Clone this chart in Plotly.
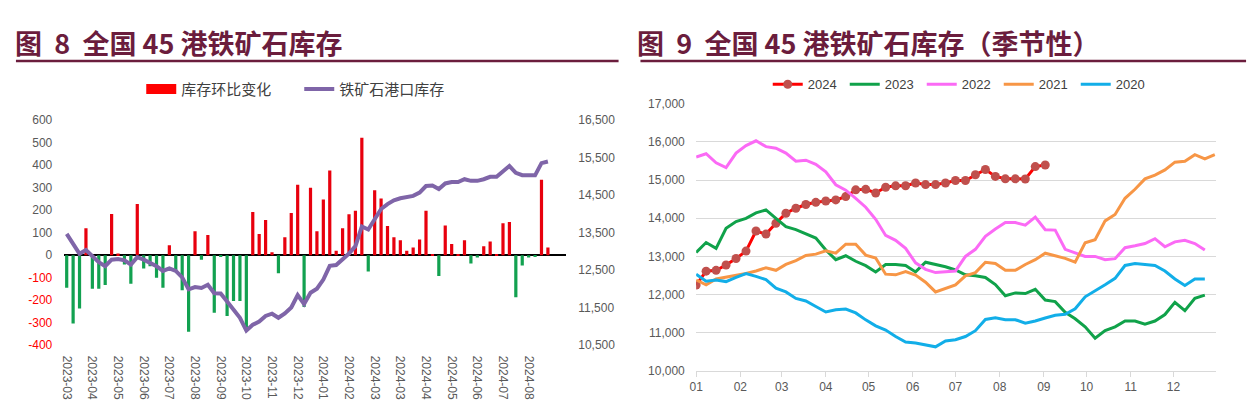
import pandas as pd
import plotly.graph_objects as go

# ---------------- data ----------------
first_week = "2023-03-31"

# weekly change of 45-port iron ore inventory (10k t)
weekly_change = [
    -145, -303, -237, 120, -149, -149, -132, 183, 7, -41,
    -127, 227, -59, -49, -100, -145, 44, -74, -156, -340,
    106, -20, 90, -256, -5, -270, -203, -203, -335, 192,
    94, 156, 13, -80, 80, 187, 313, -230, 299, 106,
    247, 376, 20, 120, 182, 197, 522, -72, 288, 252,
    130, 80, 66, 20, 34, 70, 197, 3, -93, 132,
    50, 2, 66, -37, -10, 40, 61, 2, 142, 147,
    -187, -46, -10, -6, 335, 34,
]

# 45-port iron ore inventory (10k t)
port_stock = [
    13466, 13209, 12936, 13037, 12866, 12711, 12608, 12780, 12797, 12763,
    12651, 12849, 12780, 12694, 12608, 12480, 12548, 12480, 12308, 11990,
    12050, 12025, 12110, 11885, 11879, 11664, 11448, 11232, 10890, 11046,
    11130, 11280, 11340, 11232, 11346, 11508, 11838, 11598, 11898, 12006,
    12250, 12615, 12637, 12775, 12945, 13140, 13665, 13585, 13870, 14130,
    14262, 14360, 14417, 14452, 14480, 14566, 14743, 14756, 14662, 14812,
    14848, 14850, 14924, 14881, 14881, 14924, 14987, 14987, 15138, 15277,
    15096, 15032, 15032, 15028, 15352, 15395,
]

# seasonal series (weekly, starting first week of January)
season_2024 = [
    12250, 12615, 12637, 12775, 12945, 13140, 13665, 13585, 13870, 14130,
    14262, 14360, 14417, 14452, 14480, 14566, 14743, 14756, 14662, 14812,
    14848, 14850, 14924, 14881, 14881, 14924, 14987, 14987, 15138, 15277,
    15096, 15032, 15032, 15028, 15352, 15395,
]
season_2023 = [
    13102, 13364, 13212, 13736, 13914, 13998, 14142, 14218, 13998, 13779,
    13702, 13593, 13483, 13170, 12916, 13018, 12874, 12760, 12595, 12789,
    12789, 12764, 12595, 12849, 12789, 12730, 12646, 12519, 12494, 12451,
    12265, 11970, 12046, 12029, 12139, 11860, 11817, 11538, 11369, 11158,
    10860, 11057, 11158, 11310, 11310, 11226, 11310, 11479, 11800, 11580,
    11902, 11986,
]
season_2022 = [
    15604, 15689, 15452, 15325, 15706, 15900, 16027, 15875, 15833, 15706,
    15494, 15520, 15410, 15216, 14877, 14734, 14522, 14290, 13973, 13550,
    13423, 13212, 12832, 12663, 12578, 12604, 12620, 13001, 13187, 13525,
    13719, 13888, 13888, 13821, 14032, 13700, 13690, 13187, 13085, 13001,
    13001, 12916, 12942, 13229, 13280, 13339, 13466, 13254, 13381, 13423,
    13339, 13170,
]
season_2021 = [
    12384, 12257, 12409, 12451, 12511, 12553, 12620, 12705, 12637, 12790,
    12891, 13026, 13060, 13145, 13085, 13322, 13322, 13035, 12959, 12536,
    12519, 12604, 12511, 12325, 12071, 12172, 12257, 12494, 12578, 12849,
    12815, 12637, 12637, 12790, 12916, 13085, 13018, 12950, 12850, 13360,
    13440, 13931, 14100, 14522, 14759, 15030, 15131, 15266, 15469, 15494,
    15663, 15554, 15663,
]
season_2020 = [
    12536, 12350, 12384, 12342, 12451, 12553, 12477, 12392, 12172, 12071,
    11902, 11834, 11691, 11547, 11606, 11623, 11522, 11340, 11183, 11074,
    10904, 10761, 10735, 10676, 10634, 10786, 10820, 10904, 11057, 11352,
    11395, 11344, 11344, 11251, 11310, 11390, 11462, 11488, 11631, 11944,
    12096, 12257, 12426, 12764, 12815, 12789, 12764, 12620, 12409, 12240,
    12409, 12409,
]

left_yticks = [600, 500, 400, 300, 200, 100, 0, -100, -200, -300, -400]
right_yticks = [16500, 15500, 14500, 13500, 12500, 11500, 10500]
season_yticks = [10000, 11000, 12000, 13000, 14000, 15000, 16000, 17000]

title_left = "图\u00a0\u00a08\u00a0\u00a0全国\u00a045\u00a0港铁矿石库存"
title_right = "图\u00a0\u00a09\u00a0\u00a0全国\u00a045\u00a0港铁矿石库存（季节性）"

# ---------------- styles ----------------
W, H = 1257, 417
MAROON = "#6B1D3D"
TICK = "#595959"
RED_BAR = "#E8000D"
GREEN_BAR = "#12A150"
PURPLE = "#7F65A8"
FONT = "Liberation Sans, Arial, Noto Sans CJK SC, sans-serif"
CJK = "Noto Sans CJK SC, sans-serif"

def fx(p):
    return p / W

def fy(p):
    return 1 - p / H

weeks = pd.date_range(first_week, periods=len(weekly_change), freq="7D")
cats = [d.strftime("%Y-%m-%d") for d in weeks]
tick_cats = cats[::4]
tick_text = [d.strftime("%Y-%m") for d in weeks[::4]]

pos_change = [v if v > 0 else None for v in weekly_change]
neg_change = [v if v < 0 else None for v in weekly_change]

fig = go.Figure()

# left chart
fig.add_trace(go.Bar(x=cats, y=pos_change, marker=dict(color=RED_BAR, line=dict(width=0)),
                     width=0.5, showlegend=False, xaxis="x", yaxis="y", hoverinfo="skip"))
fig.add_trace(go.Bar(x=cats, y=neg_change, marker=dict(color=GREEN_BAR, line=dict(width=0)),
                     width=0.5, showlegend=False, xaxis="x", yaxis="y", hoverinfo="skip"))
fig.add_trace(go.Scatter(x=[None], y=[None], mode="lines", name="库存环比变化",
                         line=dict(color="#FF0000", width=10), xaxis="x", yaxis="y", legend="legend"))
fig.add_trace(go.Scatter(x=cats, y=port_stock, mode="lines", name="铁矿石港口库存",
                         line=dict(color=PURPLE, width=4), xaxis="x", yaxis="y2", legend="legend"))

# right chart
season_series = [
    ("2024", season_2024, "#FF0000"),
    ("2023", season_2023, "#10A24A"),
    ("2022", season_2022, "#FB6AF5"),
    ("2021", season_2021, "#F79646"),
    ("2020", season_2020, "#12AEE8"),
]
for name, vals, color in season_series:
    dates = pd.date_range("2024-01-01", periods=len(vals), freq="7D")
    if name == "2024":
        fig.add_trace(go.Scatter(x=dates, y=vals, mode="lines+markers", name=name,
                                 line=dict(color=color, width=3),
                                 marker=dict(color="#C0504D", size=9),
                                 xaxis="x2", yaxis="y3", legend="legend2"))
    else:
        fig.add_trace(go.Scatter(x=dates, y=vals, mode="lines", name=name,
                                 line=dict(color=color, width=3),
                                 xaxis="x2", yaxis="y3", legend="legend2"))

left_ticktext = [
    (f'<span style="color:#FF0000">{v}</span>' if v < 0 else str(v)) for v in left_yticks
]

fig.update_layout(
    width=W, height=H, autosize=False,
    margin=dict(l=0, r=0, t=0, b=0),
    paper_bgcolor="white", plot_bgcolor="white",
    font=dict(family=FONT, color=TICK, size=12),
    barmode="overlay",
    xaxis=dict(domain=[fx(57), fx(562)], anchor="y", type="category",
               range=[-0.47, 77.8], tickmode="array", tickvals=tick_cats, ticktext=tick_text,
               tickangle=90, ticks="outside", ticklen=7, tickcolor="rgba(0,0,0,0)",
               showgrid=False, showline=False, zeroline=False,
               tickfont=dict(size=12, color=TICK, family=FONT)),
    yaxis=dict(domain=[fy(350), fy(117)], anchor="x", range=[-400, 600],
               tickmode="array", tickvals=left_yticks, ticktext=left_ticktext,
               showgrid=False, zeroline=True, zerolinecolor="#000000", zerolinewidth=2,
               ticks="outside", ticklen=8, tickcolor="rgba(0,0,0,0)", showline=False,
               tickfont=dict(size=12, color=TICK, family=FONT)),
    yaxis2=dict(overlaying="y", side="right", anchor="x", range=[10500, 16500],
                tickmode="array", tickvals=right_yticks, tickformat=",",
                showgrid=False, zeroline=False, showline=False,
                ticks="outside", ticklen=9, tickcolor="rgba(0,0,0,0)",
                tickfont=dict(size=12, color=TICK, family=FONT)),
    xaxis2=dict(domain=[fx(693), fx(1216)], anchor="y3", type="date",
                range=["2024-01-01", "2024-12-31"], tick0="2024-01-01", dtick="M1",
                tickformat="%m", ticks="outside", ticklen=5, tickcolor="#D9D9D9",
                showline=True, linecolor="#D9D9D9", linewidth=1, showgrid=False,
                zeroline=False, tickfont=dict(size=12, color=TICK, family=FONT)),
    yaxis3=dict(domain=[fy(376.7), fy(100)], anchor="x2", range=[10000, 17000],
                tickmode="array", tickvals=season_yticks, tickformat=",",
                showgrid=True, gridcolor="#D9D9D9", gridwidth=1, zeroline=False,
                showline=False, ticks="outside", ticklen=8, tickcolor="rgba(0,0,0,0)",
                tickfont=dict(size=12, color=TICK, family=FONT)),
    legend=dict(orientation="h", x=fx(135), xanchor="left", y=fy(85), yanchor="middle",
                font=dict(family=CJK, size=15, color="#404040"), bgcolor="rgba(0,0,0,0)",
                entrywidth=113, entrywidthmode="pixels", itemclick=False),
    legend2=dict(orientation="h", x=fx(765), xanchor="left", y=fy(80), yanchor="middle",
                 font=dict(family=FONT, size=13, color="#404040"), bgcolor="rgba(0,0,0,0)",
                 entrywidth=32, entrywidthmode="pixels", itemclick=False),
    annotations=[
        dict(text=f"<b>{title_left}</b>", xref="paper", yref="paper", x=fx(6), y=fy(37),
             xanchor="left", yanchor="middle", showarrow=False,
             font=dict(family=CJK, size=27, color=MAROON)),
        dict(text=f"<b>{title_right}</b>", xref="paper", yref="paper", x=fx(632), y=fy(37),
             xanchor="left", yanchor="middle", showarrow=False,
             font=dict(family=CJK, size=27, color=MAROON)),
    ],
    shapes=[
        dict(type="line", xref="paper", yref="paper", x0=fx(9), x1=fx(615), y0=fy(56), y1=fy(56),
             line=dict(color=MAROON, width=2.5)),
        dict(type="line", xref="paper", yref="paper", x0=fx(637), x1=fx(1246), y0=fy(56), y1=fy(56),
             line=dict(color=MAROON, width=2.5)),
    ],
)

fig.write_html(
    "out.html",
    config={"displayModeBar": False},
    post_script="document.body.style.margin='0';document.body.style.overflow='hidden';",
)
